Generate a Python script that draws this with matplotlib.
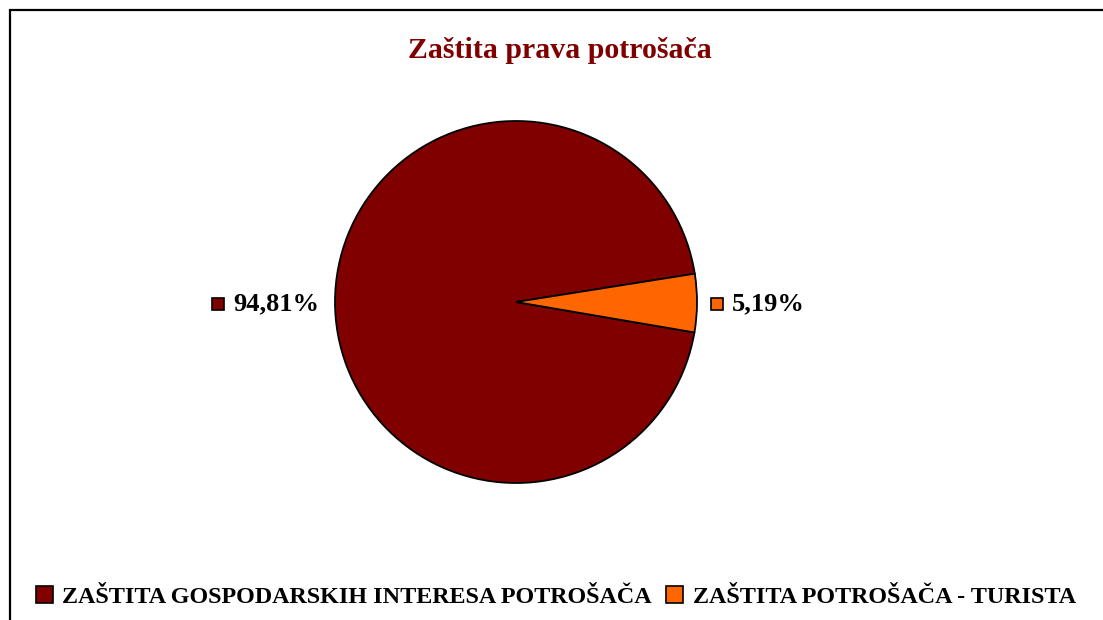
import matplotlib
matplotlib.use("Agg")
import matplotlib.pyplot as plt
from matplotlib.patches import Rectangle, Patch
from matplotlib.lines import Line2D

categories = ["ZAŠTITA GOSPODARSKIH INTERESA POTROŠAČA", "ZAŠTITA POTROŠAČA - TURISTA"]
values = [94.81, 5.19]
labels = ["94,81%", "5,19%"]
colors = ["#800000", "#FF6600"]
title = "Zaštita prava potrošača"

plt.rcParams['font.family'] = ['Liberation Serif', 'DejaVu Serif']

W, H = 1103, 620
fig = plt.figure(figsize=(W / 100, H / 100), dpi=100)

# outer border (only left and top edges visible)
bx, by = 9.5 / W, 1 - 9.5 / H
fig.add_artist(Line2D([bx, bx, 1.2], [-0.2, by, by], transform=fig.transFigure,
                      color="black", linewidth=1.6, solid_joinstyle="miter",
                      solid_capstyle="butt"))

cx, cy, r = 516, 302, 181
ax = fig.add_axes([(cx - r) / W, (H - cy - r) / H, 2 * r / W, 2 * r / H])
wedges, _ = ax.pie(values, colors=colors, startangle=9, counterclock=True,
                   wedgeprops=dict(edgecolor="black", linewidth=1.3))
ax.set_aspect("equal")
ax.set_xlim(-1.0, 1.0)
ax.set_ylim(-1.0, 1.0)

fig.text(560 / W, 1 - 50 / H, title, ha="center", va="center", fontsize=21.5,
         fontweight="bold", color="#800000")

# data labels with keys
label_pos = [(233, 304), (732, 304)]
for (x, y), lab, col in zip(label_pos, labels, colors):
    fig.text(x / W, 1 - y / H, lab, ha="left", va="center", fontsize=19, fontweight="bold")
    s = 12
    fig.patches.append(Rectangle(((x - 21) / W, 1 - (y + s / 2) / H), s / W, s / H,
                                 transform=fig.transFigure, facecolor=col,
                                 edgecolor="black", linewidth=1.2))

handles = [Patch(facecolor=c, edgecolor="black", linewidth=1.2) for c in colors]
fig.legend(handles, categories, loc="center", bbox_to_anchor=(556 / W, 1 - 597 / H),
           ncol=2, frameon=False, handlelength=0.7, handleheight=0.7, handletextpad=0.4,
           columnspacing=0.6, prop=dict(family='Liberation Serif', weight='bold', size=17.4))

fig.savefig("out.png", dpi=100)
